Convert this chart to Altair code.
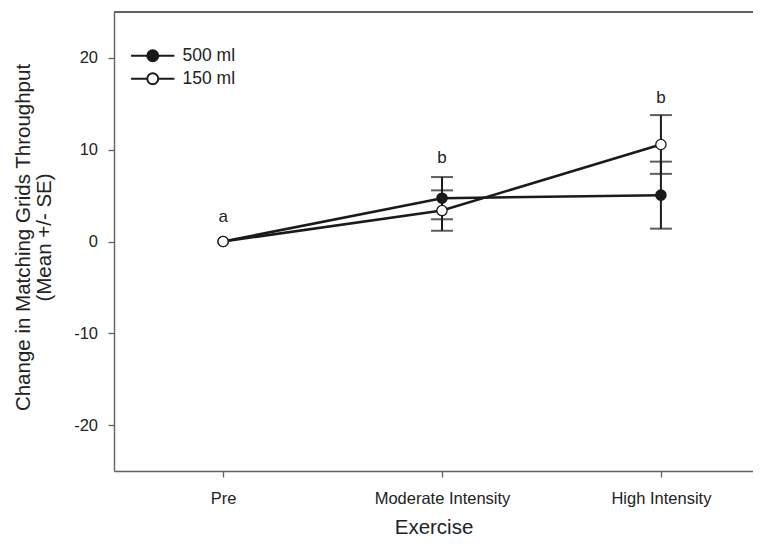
import altair as alt
import pandas as pd

categories = ["Pre", "Moderate Intensity", "High Intensity"]
series_names = ["500 ml", "150 ml"]
mean_500 = [0.0, 4.72, 5.05]
se_500 = [0.0, 2.30, 3.65]
mean_150 = [0.0, 3.37, 10.57]
se_150 = [0.0, 2.20, 3.20]
letters = ["a", "b", "b"]
letter_y = [2.1, 8.5, 15.1]
y_ticks = [-20, -10, 0, 10, 20]

rows = []
for name, means, ses in [(series_names[0], mean_500, se_500), (series_names[1], mean_150, se_150)]:
    for c, m, s in zip(categories, means, ses):
        rows.append({"Exercise": c, "Group": name, "mean": m, "lo": m - s, "hi": m + s, "se": s})
df = pd.DataFrame(rows)
letters_df = pd.DataFrame({"Exercise": categories, "letter": letters, "ly": letter_y})

FONT = "Liberation Sans"
INK = "#1a1a1a"
FRAME = "#606060"

x_scale = alt.Scale(type="point", padding=0.4596, align=0.5423)
x_enc = alt.X(
    "Exercise:N",
    sort=categories,
    scale=x_scale,
    axis=alt.Axis(
        title="Exercise",
        labelAngle=0,
        tickSize=6,
        labelPadding=13,
        titleBaseline="alphabetic",
        titleY=62,
    ),
)
y_scale = alt.Scale(domain=[-25, 25], nice=False, zero=False)
y_enc = alt.Y(
    "mean:Q",
    scale=y_scale,
    axis=alt.Axis(
        title=["Change in Matching Grids Throughput", "(Mean +/- SE)"],
        values=y_ticks,
        tickSize=6,
        labelPadding=10.5,
        labelExpr="datum.value < 0 ? '-' + abs(datum.value) : '' + datum.value",
        titleBaseline="alphabetic",
        titleAngle=270,
        titleX=-85,
        titleY=225,
        titleLineHeight=21.4,
        grid=False,
    ),
)

base = alt.Chart(df)

lines = base.mark_line(color=INK, strokeWidth=2.5).encode(
    x=x_enc, y=y_enc, detail="Group:N"
)

err = base.transform_filter("datum.se > 0")
xs = alt.X("Exercise:N", sort=categories, scale=x_scale)
rules = err.mark_rule(color=INK, strokeWidth=2).encode(
    x=xs, y=alt.Y("lo:Q", scale=y_scale), y2="hi:Q"
)
caps_lo = err.mark_tick(color=INK, thickness=2, size=22, orient="horizontal").encode(
    x=xs, y=alt.Y("lo:Q", scale=y_scale)
)
caps_hi = err.mark_tick(color=INK, thickness=2, size=22, orient="horizontal").encode(
    x=xs, y=alt.Y("hi:Q", scale=y_scale)
)

legend_path = "M-3.94,0L-1,0M1,0L3.94,0M-1,0A1,1,0,1,1,1,0A1,1,0,1,1,-1,0Z"
points = base.mark_point(shape="circle", size=105, stroke=INK, strokeWidth=1.3, opacity=1).encode(
    x=xs,
    y=alt.Y("mean:Q", scale=y_scale),
    fill=alt.Fill(
        "Group:N",
        sort=series_names,
        scale=alt.Scale(domain=series_names, range=[INK, "white"]),
        legend=alt.Legend(
            title=None,
            orient="none",
            legendX=30,
            legendY=35,
            padding=0,
            symbolType=legend_path,
            symbolSize=121,
            symbolStrokeColor=INK,
            symbolStrokeWidth=2,
            symbolOpacity=1,
            labelFont=FONT,
            labelFontSize=17.5,
            labelColor="#222222",
            labelOffset=21,
            rowPadding=3,
        ),
    ),
    order=alt.Order("order:Q"),
).transform_calculate(order="datum.Group == '150 ml' ? 1 : 0")

text = alt.Chart(letters_df).mark_text(
    font=FONT, fontSize=17, color="#222222", align="center", baseline="alphabetic"
).encode(x=xs, y=alt.Y("ly:Q", scale=y_scale), text="letter:N")

top = alt.Chart(df).mark_rule(color=FRAME, strokeWidth=1.4).encode(y=alt.datum(25))

chart = (
    alt.layer(lines, rules, caps_lo, caps_hi, points, text, top)
    .properties(
        width=639,
        height=459,
        autosize=alt.AutoSizeParams(type="none"),
        padding={"left": 106, "top": 4, "right": 0, "bottom": 67},
    )
    .configure_view(strokeWidth=0)
    .configure_axis(
        labelFont=FONT,
        titleFont=FONT,
        labelFontSize=16.5,
        titleFontSize=20.5,
        labelColor="#222222",
        titleColor="#222222",
        titleFontWeight="normal",
        domainColor=FRAME,
        domainWidth=1.4,
        tickColor=FRAME,
        tickWidth=1.3,
    )
)

chart.save("out.html", embed_options={"renderer": "svg", "actions": False})
